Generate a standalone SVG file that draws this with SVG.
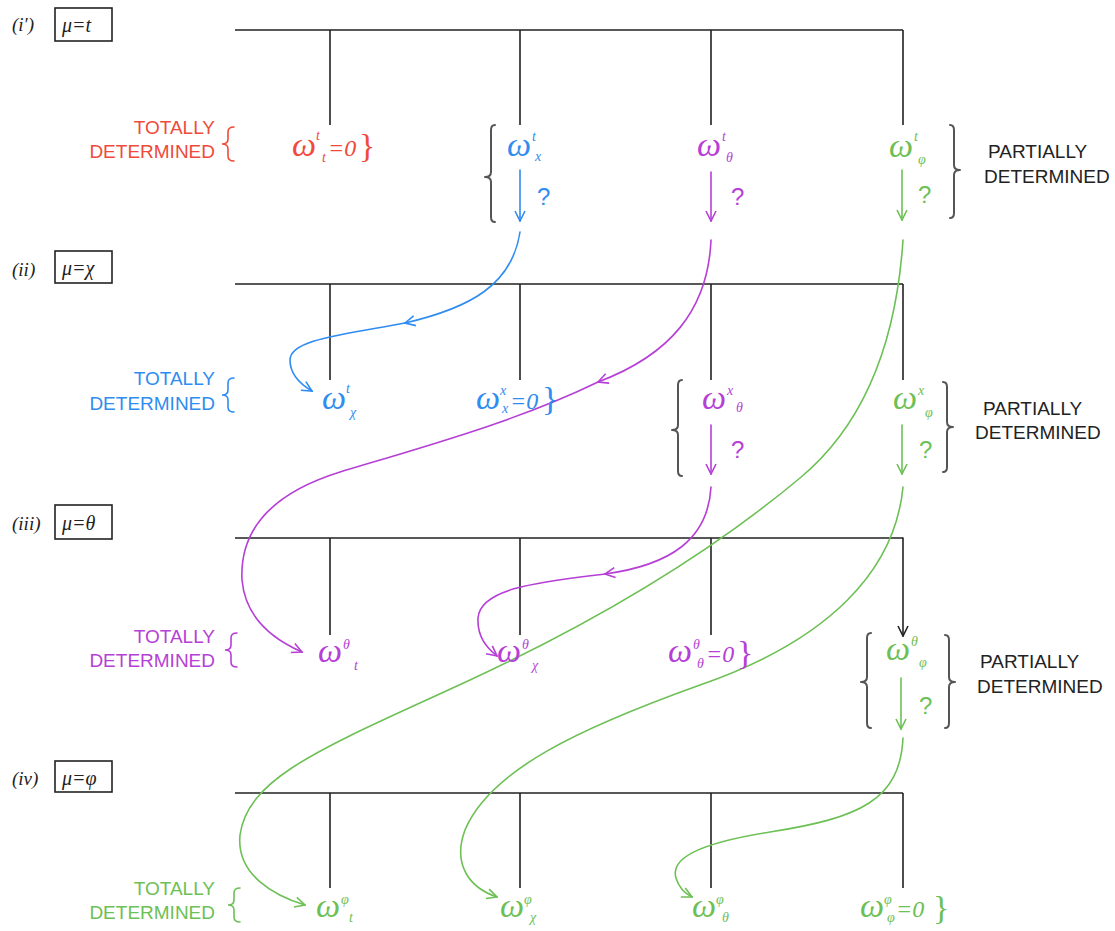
<svg xmlns="http://www.w3.org/2000/svg" width="1115" height="931" viewBox="0 0 1115 931">
<style>
.bg{fill:#fff}
.ln{stroke:#222;stroke-width:1.6;fill:none}
.br{stroke:#555;stroke-width:2;fill:none;stroke-linecap:round;stroke-linejoin:round}
.lbl{font-family:"Liberation Sans",Arial,sans-serif;font-size:19px}
.w{font-family:"Liberation Serif",serif;font-style:italic;font-size:34px}
.ix{font-family:"Liberation Serif",serif;font-style:italic;font-size:14px}
.eq{font-family:"Liberation Serif",serif;font-style:italic;font-size:24px}
.cb{font-family:"Liberation Serif",serif;font-size:34px}
.q{font-family:"Liberation Sans",Arial,sans-serif;font-size:24px}
.rn{font-family:"Liberation Serif",serif;font-style:italic;font-size:19px;fill:#222}
.mu{font-family:"Liberation Serif",serif;font-style:italic;font-size:20px;fill:#222}
.red{fill:#f04a3a}.blue{fill:#2f8cf0}.pur{fill:#b63fd6}.grn{fill:#6dc055}.blk{fill:#222}
.sr{stroke:#f04a3a}.sb{stroke:#2f8cf0}.sp{stroke:#b63fd6}.sg{stroke:#6dc055}
.c{fill:none;stroke-width:1.6;stroke-linecap:round}
</style>
<defs>
<marker id="mb" viewBox="0 0 12 12" refX="11" refY="6" markerWidth="12" markerHeight="12" markerUnits="userSpaceOnUse" orient="auto"><path d="M1,1 L11,6 L1,11" fill="none" stroke="#2f8cf0" stroke-width="1.6"/></marker>
<marker id="mp" viewBox="0 0 12 12" refX="11" refY="6" markerWidth="12" markerHeight="12" markerUnits="userSpaceOnUse" orient="auto"><path d="M1,1 L11,6 L1,11" fill="none" stroke="#b63fd6" stroke-width="1.6"/></marker>
<marker id="mg" viewBox="0 0 12 12" refX="11" refY="6" markerWidth="12" markerHeight="12" markerUnits="userSpaceOnUse" orient="auto"><path d="M1,1 L11,6 L1,11" fill="none" stroke="#6dc055" stroke-width="1.6"/></marker>
<marker id="mk" viewBox="0 0 12 12" refX="11" refY="6" markerWidth="12" markerHeight="12" markerUnits="userSpaceOnUse" orient="auto"><path d="M1,1 L11,6 L1,11" fill="none" stroke="#222" stroke-width="1.6"/></marker>
</defs>
<rect class="bg" x="0" y="0" width="1115" height="931"/>

<g id="rows">
<g id="row1">
<text class="rn" x="12" y="31">(i′)</text>
<rect x="55" y="8" width="57" height="33" fill="none" stroke="#222" stroke-width="1.6"/>
<text class="mu" x="62" y="32">μ=t</text>
<path class="ln" d="M235,30 H903 M330,30 V125 M520,30 V125 M711,30 V125 M903,30 V125"/>
</g>
<g id="row2">
<text class="rn" x="12" y="276">(ii)</text>
<rect x="55" y="251" width="57" height="32" fill="none" stroke="#222" stroke-width="1.6"/>
<text class="mu" x="62" y="275">μ=χ</text>
<path class="ln" d="M235,284 H903 M330,284 V380 M520,284 V380 M711,284 V380 M903,284 V380"/>
</g>
<g id="row3">
<text class="rn" x="12" y="530">(iii)</text>
<rect x="55" y="505" width="57" height="34" fill="none" stroke="#222" stroke-width="1.6"/>
<text class="mu" x="62" y="530">μ=θ</text>
<path class="ln" d="M235,538 H903 M330,538 V635 M520,538 V635 M711,538 V635"/>
</g>
<g id="row4">
<text class="rn" x="12" y="785">(iv)</text>
<rect x="55" y="761" width="57" height="31" fill="none" stroke="#222" stroke-width="1.6"/>
<text class="mu" x="62" y="785">μ=φ</text>
<path class="ln" d="M235,793 H903 M330,793 V888 M520,793 V888 M711,793 V888 M903,793 V888"/>
</g>
</g>

<g id="connectors">
<path class="c sb" d="M520,170 V221" marker-end="url(#mb)"/>
<path class="c sp" d="M711,172 V221" marker-end="url(#mp)"/>
<path class="c sg" d="M902,170 V220" marker-end="url(#mg)"/>
<path class="c sp" d="M711,425 V474" marker-end="url(#mp)"/>
<path class="c sg" d="M902,425 V474" marker-end="url(#mg)"/>
<path class="c sg" d="M901,678 V729" marker-end="url(#mg)"/>
<path class="c" stroke="#222" d="M903,538 V636" marker-end="url(#mk)"/>
<path class="c sb" d="M520,232 C512,285 470,308 405,323" marker-end="url(#mb)"/>
<path class="c sb" d="M405,323 C340,335 290,340 290,360 C290,375 300,384 312,391" marker-end="url(#mb)"/>
<path class="c sp" d="M711,240 C708,310 670,355 598,382" marker-end="url(#mp)"/>
<path class="c sp" d="M598,382 C520,420 430,445 340,472 C260,497 240,540 242,580 C245,615 270,638 302,652" marker-end="url(#mp)"/>
<path class="c sp" d="M711,487 C708,540 670,565 605,574" marker-end="url(#mp)"/>
<path class="c sp" d="M605,574 C540,582 480,588 478,618 C477,637 487,648 497,656" marker-end="url(#mp)"/>
<path class="c sg" d="M903,240 C897,330 870,420 800,478 C720,545 610,615 470,680 C330,745 248,775 240,835 C236,875 275,896 305,905" marker-end="url(#mg)"/>
<path class="c sg" d="M903,487 C895,570 830,640 700,685 C580,728 490,770 465,830 C452,865 470,888 497,897" marker-end="url(#mg)"/>
<path class="c sg" d="M903,738 C900,800 860,818 770,832 C700,843 670,858 676,878 C679,888 684,893 692,897" marker-end="url(#mg)"/>
</g>

<g id="td1">
<text class="lbl red" text-anchor="end" x="215" y="134">TOTALLY</text>
<text class="lbl red" text-anchor="end" x="215" y="158">DETERMINED</text>
<path class="c sr" d="M234,127 Q228,127 228,132 L228,139 Q228,144 222,144 Q228,144 228,149 L228,156 Q228,161 234,161"/>
</g>
<g id="w_tt"><text class="red"><tspan class="w" x="292" y="156">ω</tspan><tspan class="ix" x="316" y="140">t</tspan><tspan class="ix" x="322" y="162">t</tspan><tspan class="eq" x="328" y="156">=0</tspan></text><text class="cb red" x="359" y="157">}</text></g>
<g id="p1">
<path class="br" d="M495,125 Q491,125 491,130 L491,172 Q491,177 485,177 Q491,177 491,182 L491,217 Q491,222 495,222"/>
<path class="br" d="M950,125 Q954,125 954,130 L954,165 Q954,170 960,170 Q954,170 954,175 L954,213 Q954,218 950,218"/>
<text class="lbl blk" x="988" y="158">PARTIALLY</text>
<text class="lbl blk" x="984" y="183">DETERMINED</text>
</g>
<g id="w_tx"><text class="blue"><tspan class="w" x="507" y="156">ω</tspan><tspan class="ix" x="532" y="141">t</tspan><tspan class="ix" x="535" y="161">x</tspan></text><text class="q blue" x="537" y="205">?</text></g>
<g id="w_tth"><text class="pur"><tspan class="w" x="697" y="156">ω</tspan><tspan class="ix" x="722" y="141">t</tspan><tspan class="ix" x="726" y="162">θ</tspan></text><text class="q pur" x="731" y="205">?</text></g>
<g id="w_tph"><text class="grn"><tspan class="w" x="889" y="157">ω</tspan><tspan class="ix" x="914" y="141">t</tspan><tspan class="ix" x="918" y="164">φ</tspan></text><text class="q grn" x="918" y="203">?</text></g>

<g id="td2">
<text class="lbl blue" text-anchor="end" x="215" y="385">TOTALLY</text>
<text class="lbl blue" text-anchor="end" x="215" y="410">DETERMINED</text>
<path class="c sb" d="M234,378 Q228,378 228,383 L228,390 Q228,395 222,395 Q228,395 228,400 L228,407 Q228,412 234,412"/>
</g>
<g id="w_xt"><text class="blue"><tspan class="w" x="322" y="409">ω</tspan><tspan class="ix" x="346" y="393">t</tspan><tspan class="ix" x="350" y="417">χ</tspan></text></g>
<g id="w_xx"><text class="blue"><tspan class="w" x="476" y="409">ω</tspan><tspan class="ix" x="500" y="395">x</tspan><tspan class="ix" x="502" y="413">x</tspan><tspan class="eq" x="510" y="409">=0</tspan></text><text class="cb blue" x="542" y="410">}</text></g>
<g id="p2">
<path class="br" d="M682,380 Q678,380 678,385 L678,425 Q678,430 672,430 Q678,430 678,435 L678,471 Q678,476 682,476"/>
<path class="br" d="M943,382 Q947,382 947,387 L947,422 Q947,427 953,427 Q947,427 947,432 L947,467 Q947,472 943,472"/>
<text class="lbl blk" x="983" y="415">PARTIALLY</text>
<text class="lbl blk" x="975" y="439">DETERMINED</text>
</g>
<g id="w_xth"><text class="pur"><tspan class="w" x="702" y="409">ω</tspan><tspan class="ix" x="727" y="395">x</tspan><tspan class="ix" x="736" y="412">θ</tspan></text><text class="q pur" x="731" y="458">?</text></g>
<g id="w_xph"><text class="grn"><tspan class="w" x="893" y="409">ω</tspan><tspan class="ix" x="918" y="395">x</tspan><tspan class="ix" x="925" y="417">φ</tspan></text><text class="q grn" x="919" y="458">?</text></g>

<g id="td3">
<text class="lbl pur" text-anchor="end" x="215" y="643">TOTALLY</text>
<text class="lbl pur" text-anchor="end" x="215" y="667">DETERMINED</text>
<path class="c sp" d="M237,633 Q231,633 231,638 L231,645 Q231,650 225,650 Q231,650 231,655 L231,662 Q231,667 237,667"/>
</g>
<g id="w_tht"><text class="pur"><tspan class="w" x="318" y="662">ω</tspan><tspan class="ix" x="343" y="649">θ</tspan><tspan class="ix" x="354" y="670">t</tspan></text></g>
<g id="w_thx"><text class="pur"><tspan class="w" x="497" y="662">ω</tspan><tspan class="ix" x="522" y="649">θ</tspan><tspan class="ix" x="532" y="670">χ</tspan></text></g>
<g id="w_thth"><text class="pur"><tspan class="w" x="668" y="662">ω</tspan><tspan class="ix" x="693" y="649">θ</tspan><tspan class="ix" x="697" y="668">θ</tspan><tspan class="eq" x="706" y="662">=0</tspan></text><text class="cb pur" x="737" y="664">}</text></g>
<g id="p3">
<path class="br" d="M871,633 Q867,633 867,638 L867,677 Q867,682 861,682 Q867,682 867,687 L867,723 Q867,728 871,728"/>
<path class="br" d="M945,635 Q949,635 949,640 L949,677 Q949,682 955,682 Q949,682 949,687 L949,723 Q949,728 945,728"/>
<text class="lbl blk" x="980" y="668">PARTIALLY</text>
<text class="lbl blk" x="977" y="693">DETERMINED</text>
</g>
<g id="w_thph"><text class="grn"><tspan class="w" x="886" y="660">ω</tspan><tspan class="ix" x="911" y="646">θ</tspan><tspan class="ix" x="919" y="667">φ</tspan></text><text class="q grn" x="919" y="714">?</text></g>

<g id="td4">
<text class="lbl grn" text-anchor="end" x="215" y="895">TOTALLY</text>
<text class="lbl grn" text-anchor="end" x="215" y="919">DETERMINED</text>
<path class="c sg" d="M240,888 Q234,888 234,893 L234,900 Q234,905 228,905 Q234,905 234,910 L234,917 Q234,922 240,922"/>
</g>
<g id="w_pht"><text class="grn"><tspan class="w" x="316" y="917">ω</tspan><tspan class="ix" x="341" y="904">φ</tspan><tspan class="ix" x="349" y="922">t</tspan></text></g>
<g id="w_phx"><text class="grn"><tspan class="w" x="500" y="917">ω</tspan><tspan class="ix" x="524" y="904">φ</tspan><tspan class="ix" x="530" y="922">χ</tspan></text></g>
<g id="w_phth"><text class="grn"><tspan class="w" x="692" y="917">ω</tspan><tspan class="ix" x="716" y="904">φ</tspan><tspan class="ix" x="722" y="922">θ</tspan></text></g>
<g id="w_phph"><text class="grn"><tspan class="w" x="860" y="917">ω</tspan><tspan class="ix" x="884" y="904">φ</tspan><tspan class="ix" x="887" y="922">φ</tspan><tspan class="eq" x="896" y="917">=0</tspan></text><text class="cb grn" x="933" y="919">}</text></g>
</svg>
